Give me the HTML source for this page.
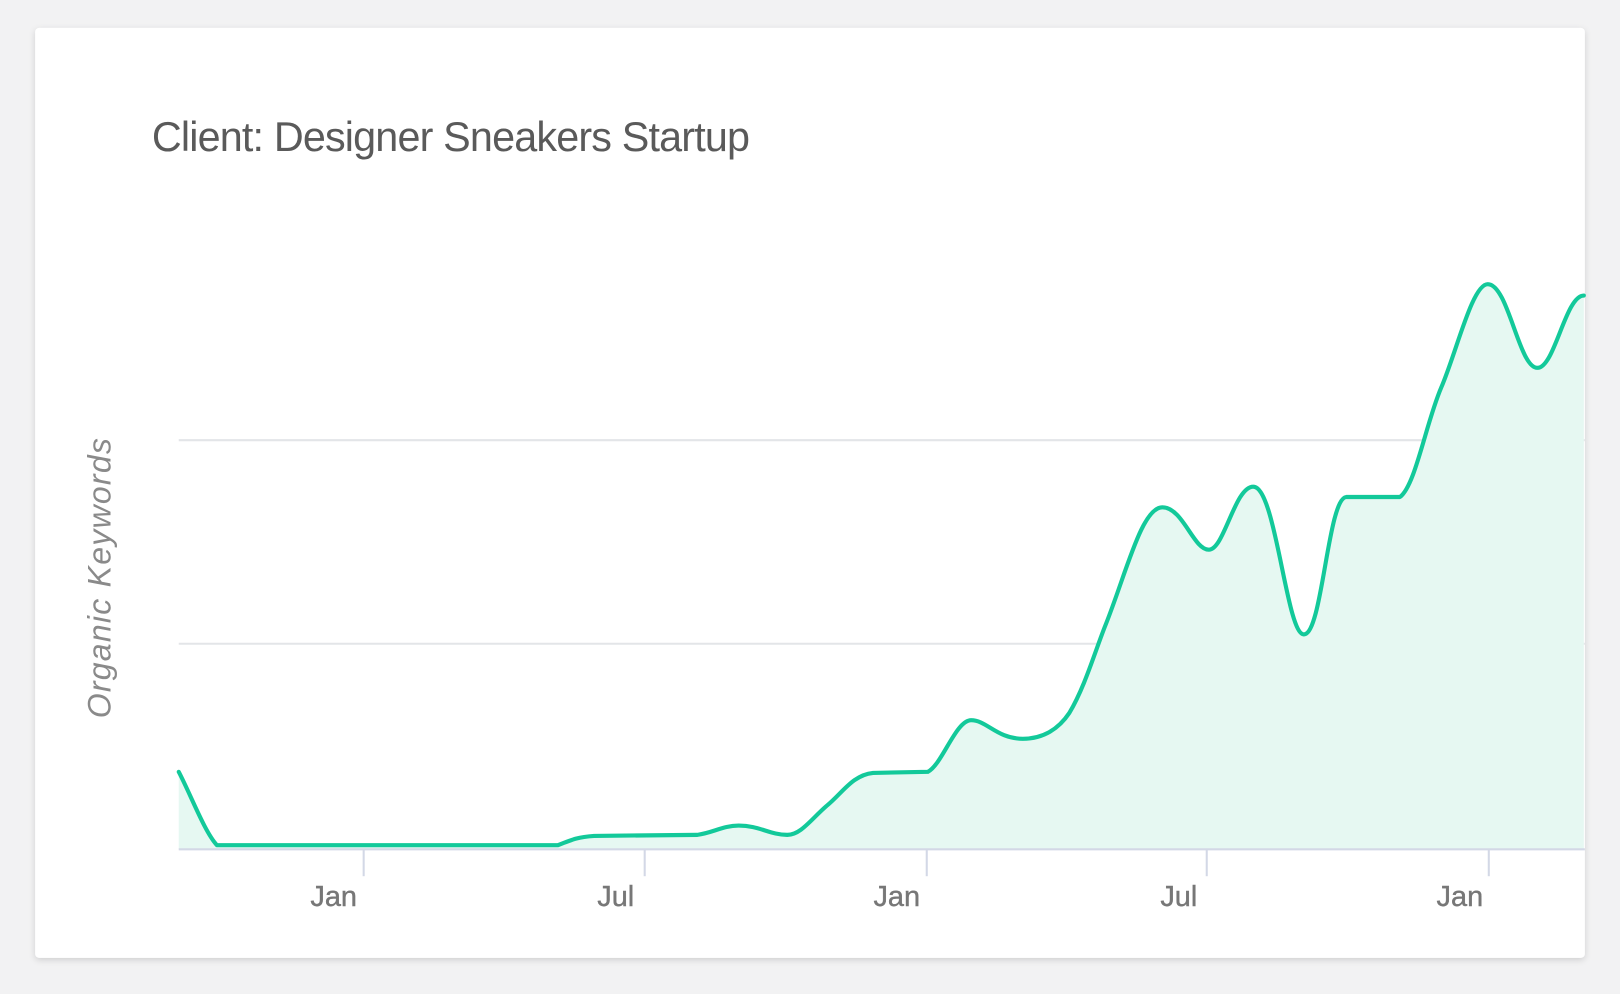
<!DOCTYPE html>
<html><head><meta charset="utf-8"><style>
html,body{margin:0;padding:0;background:#f2f2f3;width:1620px;height:994px;overflow:hidden}
svg{display:block}
</style></head><body>
<svg width="1620" height="994" viewBox="0 0 1568 962" preserveAspectRatio="none" xmlns="http://www.w3.org/2000/svg">
<defs><filter id="sh" x="-5%" y="-5%" width="110%" height="110%"><feDropShadow dx="0" dy="2" stdDeviation="3" flood-color="#000" flood-opacity="0.15"/></filter></defs>
<rect x="0" y="0" width="1568" height="962" fill="#f2f2f3"/>
<rect x="34" y="27" width="1500" height="900" rx="4" fill="#fff" filter="url(#sh)"/>
<text x="147" y="146" font-family="Liberation Sans, sans-serif" font-size="40" fill="#5a5a5a" letter-spacing="-0.8">Client:  Designer Sneakers Startup</text>
<text transform="translate(107,559) rotate(-90)" text-anchor="middle" font-family="Liberation Sans, sans-serif" font-size="31" font-style="italic" fill="#8a8a8a" letter-spacing="1.2">Organic Keywords</text>
<line x1="173" y1="426" x2="1534" y2="426" stroke="#e3e5e8" stroke-width="2"/>
<line x1="173" y1="623" x2="1534" y2="623" stroke="#e3e5e8" stroke-width="2"/>
<path d="M173,747 C185,770 198,805 210,818 L540,818 C555,812 560,810 575,809 L675,808 C690,806 700,799 715,799 C735,799 745,808 762,808 C775,808 785,793 800,780 C815,768 825,750 845,748 L898,747 C912,740 925,697 940,697 C955,697 965,715 990,715 C1010,715 1025,705 1035,690 C1050,665 1060,630 1070,605 C1090,555 1105,491 1125,491 C1145,491 1155,532 1170,532 C1185,532 1195,471 1213,471 C1235,471 1245,614 1262,614 C1280,614 1285,483 1303,481 L1355,481 C1370,470 1380,410 1395,375 C1410,340 1425,275 1440,275 C1460,275 1470,356 1488,356 C1505,356 1515,286 1533,286 L1533,822 L173,822 Z" fill="#e6f8f2"/>
<line x1="173" y1="822" x2="1534" y2="822" stroke="#d3d8e6" stroke-width="2"/>
<g stroke="#d3d8e6" stroke-width="2">
<line x1="352" y1="822" x2="352" y2="848"/><line x1="624" y1="822" x2="624" y2="848"/><line x1="897" y1="822" x2="897" y2="848"/><line x1="1168" y1="822" x2="1168" y2="848"/><line x1="1441" y1="822" x2="1441" y2="848"/>
</g>
<path d="M173,747 C185,770 198,805 210,818 L540,818 C555,812 560,810 575,809 L675,808 C690,806 700,799 715,799 C735,799 745,808 762,808 C775,808 785,793 800,780 C815,768 825,750 845,748 L898,747 C912,740 925,697 940,697 C955,697 965,715 990,715 C1010,715 1025,705 1035,690 C1050,665 1060,630 1070,605 C1090,555 1105,491 1125,491 C1145,491 1155,532 1170,532 C1185,532 1195,471 1213,471 C1235,471 1245,614 1262,614 C1280,614 1285,483 1303,481 L1355,481 C1370,470 1380,410 1395,375 C1410,340 1425,275 1440,275 C1460,275 1470,356 1488,356 C1505,356 1515,286 1533,286" fill="none" stroke="#13c99a" stroke-width="4" stroke-linejoin="round" stroke-linecap="round"/>
<g font-family="Liberation Sans, sans-serif" font-size="28" fill="#777" text-anchor="middle" stroke="#777" stroke-width="0.4">
<text x="323" y="877">Jan</text><text x="596" y="877">Jul</text><text x="868" y="877">Jan</text><text x="1141" y="877">Jul</text><text x="1413" y="877">Jan</text>
</g>
</svg>
</body></html>
